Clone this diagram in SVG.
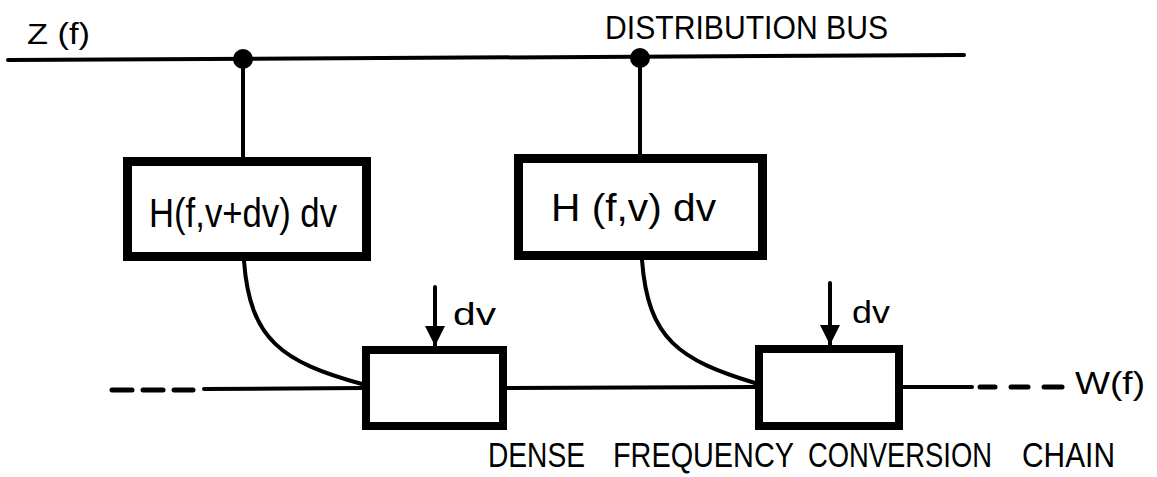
<svg xmlns="http://www.w3.org/2000/svg" width="1157" height="477" viewBox="0 0 1157 477">
<style>
.t{font-family:"Liberation Sans","DejaVu Sans",sans-serif;fill:#000}
.box{fill:#fff;stroke:#000;stroke-width:9}
.sbox{fill:#fff;stroke:#000;stroke-width:8}
.ln{fill:none;stroke:#000;stroke-width:4;stroke-linecap:round}
.dash{fill:none;stroke:#000;stroke-width:5;stroke-linecap:round}
</style>
<defs>
<marker id="ah" viewBox="0 0 10 10" refX="10" refY="5" markerWidth="5" markerHeight="6" markerUnits="strokeWidth" orient="auto">
<path d="M0,0 L10,5 L0,10 z" fill="#000"/>
</marker>
</defs>
<rect width="1157" height="477" fill="#fff"/>
<g id="connectors">
<line class="ln" x1="8" y1="60" x2="964" y2="55"/>
<line class="ln" x1="243" y1="59" x2="243" y2="157"/>
<line class="ln" x1="640" y1="58" x2="640" y2="154"/>
<path class="ln" d="M244 261 C250 340 282 362 362 384"/>
<path class="ln" d="M642 260 C648 340 680 360 755 383"/>
<line class="dash" x1="112" y1="390" x2="132" y2="390"/>
<line class="dash" x1="143" y1="390" x2="163" y2="390"/>
<line class="dash" x1="174" y1="390" x2="193" y2="390"/>
<line class="ln" x1="204" y1="389" x2="362" y2="388"/>
<line class="ln" x1="507" y1="388" x2="755" y2="387"/>
<line class="ln" x1="903" y1="387" x2="972" y2="387"/>
<line class="dash" x1="980" y1="387" x2="995" y2="387"/>
<line class="dash" x1="1011" y1="387" x2="1028" y2="387"/>
<line class="dash" x1="1044" y1="387" x2="1062" y2="387"/>
<line class="ln" x1="435" y1="287" x2="435" y2="346" marker-end="url(#ah)"/>
<line class="ln" x1="830" y1="283" x2="830" y2="345" marker-end="url(#ah)"/>
<circle cx="243" cy="59" r="10" fill="#000"/>
<circle cx="640" cy="58" r="10" fill="#000"/>
</g>
<g id="bus-label">
<text class="t" x="27" y="44" font-size="30" textLength="63" lengthAdjust="spacingAndGlyphs">Z (f)</text>
<text class="t" x="605" y="39" font-size="33" textLength="283" lengthAdjust="spacingAndGlyphs">DISTRIBUTION  BUS</text>
</g>
<g id="filter-left">
<rect class="box" x="127.5" y="161.5" width="239" height="95"/>
<text class="t" x="149" y="227" font-size="41" textLength="188" lengthAdjust="spacingAndGlyphs">H(f,v+dv) dv</text>
</g>
<g id="filter-right">
<rect class="box" x="518.5" y="158.5" width="244" height="97"/>
<text class="t" x="551" y="221" font-size="38" textLength="165" lengthAdjust="spacingAndGlyphs">H (f,v) dv</text>
</g>
<g id="mixer-left">
<rect class="sbox" x="366" y="350" width="137" height="76"/>
<text class="t" x="453" y="325" font-size="32" textLength="43" lengthAdjust="spacingAndGlyphs">dv</text>
</g>
<g id="mixer-right">
<rect class="sbox" x="759" y="349" width="140" height="77"/>
<text class="t" x="852" y="323" font-size="32" textLength="38" lengthAdjust="spacingAndGlyphs">dv</text>
</g>
<g id="output-label">
<text class="t" x="1075" y="394" font-size="32" textLength="70" lengthAdjust="spacingAndGlyphs">W(f)</text>
</g>
<g id="chain-label" transform="scale(0.78,1)">
<text class="t" x="625.6" y="467" font-size="36" textLength="124.4" lengthAdjust="spacingAndGlyphs">DENSE</text>
<text class="t" x="785.9" y="467" font-size="36" textLength="232" lengthAdjust="spacingAndGlyphs">FREQUENCY</text>
<text class="t" x="1035.9" y="467" font-size="36" textLength="235.9" lengthAdjust="spacingAndGlyphs">CONVERSION</text>
<text class="t" x="1310.3" y="467" font-size="36" textLength="119.2" lengthAdjust="spacingAndGlyphs">CHAIN</text>
</g>
</svg>
